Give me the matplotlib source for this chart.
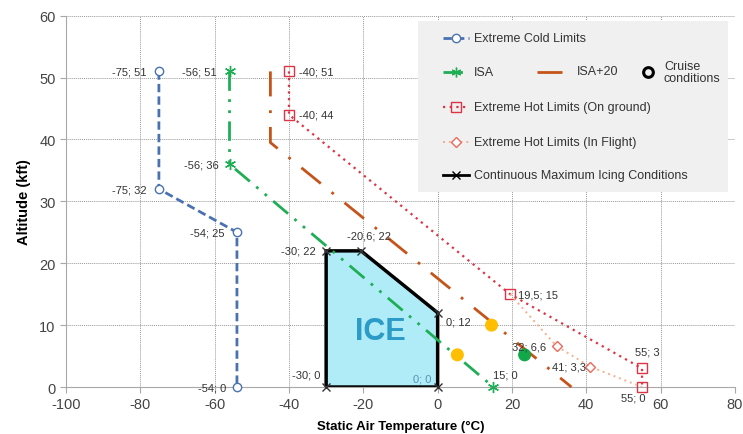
import matplotlib
matplotlib.use("Agg")
import matplotlib.pyplot as plt
from matplotlib.patches import Polygon, Rectangle
from matplotlib.lines import Line2D

plt.rcParams['font.family'] = ['Liberation Sans', 'DejaVu Sans']
plt.rcParams['axes.unicode_minus'] = False

# data (temperature degC, altitude kft)
cold_t = [-75, -75, -54, -54]
cold_h = [51, 32, 25, 0]
isa_t = [-56, -56, 15]
isa_h = [51, 36, 0]
isa20_t = [-45, -45, 36]
isa20_h = [51, 39.5, 0]
hot_gnd_t = [-40, -40, 19.5, 55, 55]
hot_gnd_h = [51, 44, 15, 3, 0]
hot_flt_t = [19.5, 32, 41, 55]
hot_flt_h = [15, 6.6, 3.3, 0]
ice_t = [-30, -30, -20.6, 0, 0]
ice_h = [0, 22, 22, 12, 0]
cruise_t = [14.5, 5.3, 23.4]
cruise_h = [10, 5.2, 5.2]
cruise_col = ['#ffbf00', '#ffbf00', '#12a84a']

# point labels: text, point, ha, offset in pixels
labels = [
    ("-75; 51", (-75, 51), 'right', (-12, 0)),
    ("-56; 51", (-56, 51), 'right', (-13, 0)),
    ("-40; 51", (-40, 51), 'left', (10, 0)),
    ("-40; 44", (-40, 44), 'left', (10, 0)),
    ("-56; 36", (-56, 36), 'right', (-11, 0)),
    ("-75; 32", (-75, 32), 'right', (-12, -1)),
    ("-54; 25", (-54, 25), 'right', (-12, 0)),
    ("-30; 22", (-30, 22), 'right', (-10, 0)),
    ("-20,6; 22", (-20.6, 22), 'center', (8, 15)),
    ("0; 12", (0, 12), 'left', (8, -9)),
    ("19,5; 15", (19.5, 15), 'left', (8, 0)),
    ("32; 6,6", (32, 6.6), 'right', (-10, 0)),
    ("41; 3,3", (41, 3.3), 'right', (-4, 0)),
    ("55; 3", (55, 3), 'center', (5, 17)),
    ("55; 0", (55, 0), 'right', (3, -10)),
    ("15; 0", (15, 0), 'left', (0, 13)),
    ("0; 0", (0, 0), 'right', (-6, 9)),
    ("-30; 0", (-30, 0), 'right', (-6, 13)),
    ("-54; 0", (-54, 0), 'right', (-11, 0)),
]

c_cold = '#4a72b0'
c_isa = '#1fae55'
c_isa20 = '#c4541a'
c_hot = '#dd3344'
c_flt = '#f5b08c'
c_flt_m = '#e86a5a'

fig = plt.figure(figsize=(7.43, 4.35), dpi=100)
ax = fig.add_axes([0.0888, 0.108, 0.9004, 0.8536])

ax.set_xlim(-100, 80)
ax.set_ylim(0, 60)
ax.set_xticks(range(-100, 81, 20))
ax.set_yticks(range(0, 61, 10))
ax.grid(True, linestyle=(0, (1, 1)), color='#999999', linewidth=0.7, zorder=0)
ax.set_axisbelow(True)
for s in ['top', 'right']:
    ax.spines[s].set_visible(False)
for s in ['left', 'bottom']:
    ax.spines[s].set_color('#a8a8a8')
ax.tick_params(colors='#a8a8a8', labelcolor='#444444', labelsize=10.5, length=4)
ax.set_xlabel("Static Air Temperature (°C)", fontsize=9.5, fontweight='bold', labelpad=6)
ax.set_ylabel("Altitude (kft)", fontsize=10.5, fontweight='bold', labelpad=6)

# ICE zone
ice = Polygon(list(zip(ice_t, ice_h)), closed=True, facecolor='#b0ecf8',
              edgecolor='black', linewidth=2.5, zorder=2)
ax.add_patch(ice)
ax.plot(ice_t, ice_h, linestyle='none', marker='x', color='#333333', markersize=6,
        clip_on=False, zorder=4)
ax.text(-15.3, 9, "ICE", fontsize=22, fontweight='bold', color='#2b9bc7',
        ha='center', va='center', zorder=3)

ax.plot(cold_t, cold_h, color=c_cold, linestyle=(0, (3, 1.5)), linewidth=2,
        marker='o', markersize=6, markerfacecolor='white', markeredgecolor=c_cold,
        markeredgewidth=1, clip_on=False, zorder=3)
ax.plot(isa_t, isa_h, color=c_isa, linestyle=(0, (7, 3, 1, 3, 1, 3)), linewidth=2,
        marker=(6, 2, 0), markersize=8, markeredgewidth=1, clip_on=False, zorder=3)
ax.plot(isa20_t, isa20_h, color=c_isa20, linestyle=(0, (9, 5, 1, 5)), linewidth=2,
        clip_on=False, zorder=3)
ax.plot(hot_gnd_t, hot_gnd_h, color=c_hot, linestyle=(0, (1, 2)), linewidth=1.6,
        marker='s', markersize=7, markerfacecolor='none', markeredgecolor=c_hot,
        markeredgewidth=1, clip_on=False, zorder=3)
ax.plot(hot_flt_t, hot_flt_h, color=c_flt, linestyle=(0, (1, 2)), linewidth=1.4,
        zorder=3)
ax.plot(hot_flt_t[1:3], hot_flt_h[1:3], linestyle='none', marker='D', markersize=5,
        markerfacecolor='white', markeredgecolor=c_flt_m, markeredgewidth=1, zorder=4)
ax.scatter(cruise_t, cruise_h, s=70, c=cruise_col, zorder=5)

for txt, (x, y), ha, off in labels:
    col = '#5d8fb2' if txt == "0; 0" else '#333333'
    ax.annotate(txt, xy=(x, y), xytext=off, textcoords='offset pixels', ha=ha,
                va='center', fontsize=8, color=col, annotation_clip=False, zorder=6)

# legend, laid out by hand (pixel -> axes fraction)
def axf(px, py):
    return ((px - 66) / 669.0, (388 - py) / 371.3)

x0, y0 = axf(418, 193)
x1, y1 = axf(728, 22)
ax.add_patch(Rectangle((x0, y0), x1 - x0, y1 - y0, transform=ax.transAxes,
                       facecolor='#f0f0f0', edgecolor='none', zorder=7))

def handle(px_a, px_b, py, line=None, mark=None):
    a = axf(px_a, py)
    b = axf(px_b, py)
    if line:
        ax.add_line(Line2D([a[0], b[0]], [a[1], b[1]], transform=ax.transAxes,
                           zorder=8, **line))
    if mark:
        ax.add_line(Line2D([(a[0] + b[0]) / 2], [a[1]], transform=ax.transAxes,
                           linestyle='none', zorder=9, **mark))

def ltext(px, py, s, **kw):
    x, y = axf(px, py)
    ax.text(x, y, s, transform=ax.transAxes, fontsize=9, color='#333333',
            va='center', ha='left', zorder=9, **kw)

handle(443, 469, 39, dict(color=c_cold, linestyle=(0, (3, 1.5)), linewidth=2),
       dict(marker='o', markersize=6, markerfacecolor='white', markeredgecolor=c_cold))
ltext(474, 39, "Extreme Cold Limits")

handle(443, 469, 73, dict(color=c_isa, linestyle=(0, (7, 3, 1, 3)), linewidth=2),
       dict(color=c_isa, marker=(6, 2, 0), markersize=7))
ltext(474, 73, "ISA")

handle(537, 563, 73, dict(color=c_isa20, linestyle=(0, (9, 5, 1, 5)), linewidth=2))
ltext(577, 72, "ISA+20")

handle(640, 656, 73, None,
       dict(color='black', marker='o', markersize=7, markerfacecolor='none',
            markeredgewidth=2.2))
ltext(664, 73, "Cruise\nconditions", linespacing=1.1)

handle(443, 469, 108, dict(color=c_hot, linestyle=(0, (1, 2)), linewidth=1.6),
       dict(marker='s', markersize=7, markerfacecolor='none', markeredgecolor=c_hot))
ltext(474, 108, "Extreme Hot Limits (On ground)")

handle(443, 469, 143, dict(color=c_flt, linestyle=(0, (1, 2)), linewidth=1.4),
       dict(marker='D', markersize=5, markerfacecolor='white', markeredgecolor=c_flt_m))
ltext(474, 143, "Extreme Hot Limits (In Flight)")

handle(443, 469, 176, dict(color='black', linewidth=2),
       dict(color='black', marker='x', markersize=6))
ltext(474, 176, "Continuous Maximum Icing Conditions")

fig.savefig("out.png", dpi=100)
